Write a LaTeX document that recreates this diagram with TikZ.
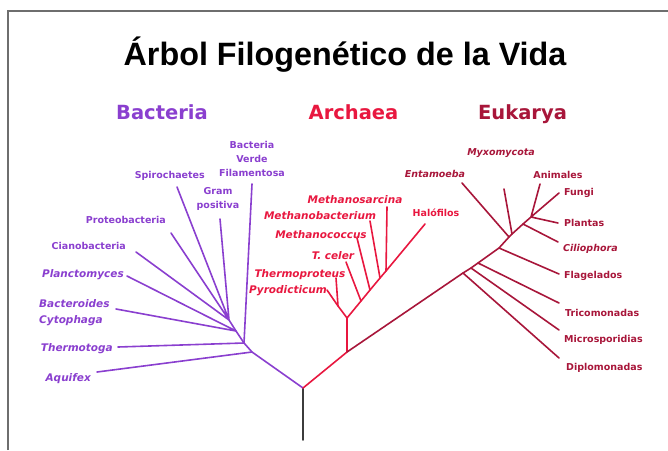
\documentclass[tikz,border=0pt]{standalone}
\usepackage{fontspec}
\newfontfamily\titlefont{Liberation Sans}
\newfontfamily\treefont{DejaVu Sans}
\usepackage{xcolor}
\usetikzlibrary{positioning}
\definecolor{bactcol}{HTML}{8A3FCF}
\definecolor{archcol}{HTML}{E8173F}
\definecolor{eukcol}{HTML}{A8163A}
\definecolor{trunkcol}{HTML}{3C3C3C}
\definecolor{framecol}{HTML}{6E6E6E}

\begin{document}
\begin{tikzpicture}[x=1pt, y=-1pt,
    branch/.style={line width=1.6pt, line cap=round, line join=round},
    lab/.style={inner sep=0pt, font=\treefont\bfseries\fontsize{9.5}{14}\selectfont},
    slab/.style={inner sep=0pt, font=\treefont\bfseries\itshape\fontsize{9.5}{14}\selectfont},
    ilab/.style={inner sep=0pt, font=\treefont\bfseries\itshape\fontsize{10.5}{16}\selectfont},
    header/.style={inner sep=0pt, anchor=base, font=\treefont\bfseries\fontsize{19.5}{22}\selectfont}]
    \useasboundingbox (0,0) rectangle (668,450);

    % Frame
    \draw[framecol, line width=1.3pt] (8,450) -- (8,11) -- (668,11);

    % Title and domains
    \node[anchor=base, inner sep=0pt, font=\titlefont\bfseries\fontsize{32.3}{38}\selectfont] (title) at (345,65) {Árbol Filogenético de la Vida};
    \node[header, bactcol] (bacteria) at (162,119) {Bacteria};
    \node[header, archcol] (archaea) at (353.5,119) {Archaea};
    \node[header, eukcol] (eukarya) at (522.5,119) {Eukarya};

    % Branch points
    \coordinate (base) at (303,440);
    \coordinate (root) at (303,388);
    \coordinate (bA) at (252,352);
    \coordinate (bB) at (244,343);
    \coordinate (bC) at (236,331);
    \coordinate (bD) at (229,320);
    \coordinate (aA) at (347,352);
    \coordinate (aB) at (347,318);
    \coordinate (aC) at (338,306);
    \coordinate (aD) at (361,301);
    \coordinate (aE) at (370,290);
    \coordinate (aF) at (380,278);
    \coordinate (aG) at (386,271);
    \coordinate (eA) at (463,273);
    \coordinate (eB) at (471,268);
    \coordinate (eC) at (478,263);
    \coordinate (eD) at (499,248);
    \coordinate (eE) at (509,237);
    \coordinate (eH) at (512,234);
    \coordinate (eF) at (523,224);
    \coordinate (eG) at (531,217);

    % Tips
    \coordinate (aqu) at (97,372);
    \coordinate (the) at (118,347);
    \coordinate (bac) at (116,309);
    \coordinate (pla) at (127,276);
    \coordinate (cia) at (136,252);
    \coordinate (pro) at (171,233);
    \coordinate (spi) at (177,187);
    \coordinate (gra) at (220,219);
    \coordinate (ver) at (252,184);
    \coordinate (pyr) at (327,290);
    \coordinate (thp) at (336,278);
    \coordinate (tce) at (346,262);
    \coordinate (mco) at (357,238);
    \coordinate (mba) at (370,221);
    \coordinate (msa) at (387,207);
    \coordinate (hal) at (425,224);
    \coordinate (dip) at (559,358);
    \coordinate (mic) at (559,330);
    \coordinate (tri) at (559,303);
    \coordinate (fla) at (559,274);
    \coordinate (cil) at (558,242);
    \coordinate (pln) at (558,223);
    \coordinate (fun) at (559,193);
    \coordinate (ani) at (540,184);
    \coordinate (ent) at (462,183);
    \coordinate (myx) at (504,189);

    % Trunk
    \draw[branch, trunkcol] (base) -- (root);

    % Bacteria
    \draw[branch, bactcol] (root) -- (bA) -- (bB) -- (bC) -- (bD);
    \draw[branch, bactcol] (aqu) -- (bA) (the) -- (bB) (ver) -- (bB) (bac) -- (bC) (pla) -- (bC);
    \draw[branch, bactcol] (cia) -- (bD) (pro) -- (bD) (spi) -- (bD) (gra) -- (bD);
    \node[ilab, bactcol, anchor=east] (aquL) at (91,379) {Aquifex};
    \node[ilab, bactcol, anchor=east] (theL) at (113,349) {Thermotoga};
    \node[ilab, bactcol, anchor=west, align=left] (bacL) at (39,313) {Bacteroides\\Cytophaga};
    \node[ilab, bactcol, anchor=east] (plaL) at (124,275) {Planctomyces};
    \node[lab, bactcol, anchor=east] (ciaL) at (126,246) {Cianobacteria};
    \node[lab, bactcol, anchor=east] (proL) at (166,220) {Proteobacteria};
    \node[lab, bactcol, anchor=east] (spiL) at (205,176) {Spirochaetes};
    \node[lab, bactcol, align=center] (graL) at (218,199) {Gram\\positiva};
    \node[lab, bactcol, align=center] (verL) at (252,159) {Bacteria\\Verde\\Filamentosa};

    % Archaea
    \draw[branch, archcol] (root) -- (aA) -- (aB) -- (aC) -- (thp);
    \draw[branch, archcol] (aC) -- (pyr);
    \draw[branch, archcol] (aB) -- (aD) -- (aE) -- (aF) -- (aG) -- (hal);
    \draw[branch, archcol] (tce) -- (aD) (mco) -- (aE) (mba) -- (aF) (msa) -- (aG);
    \node[ilab, archcol] (msaL) at (355,200) {Methanosarcina};
    \node[ilab, archcol] (mbaL) at (320,216) {Methanobacterium};
    \node[ilab, archcol] (mcoL) at (321,235) {Methanococcus};
    \node[ilab, archcol] (tceL) at (333,256) {T. celer};
    \node[ilab, archcol] (thpL) at (300,275) {Thermoproteus};
    \node[ilab, archcol] (pyrL) at (288,291) {Pyrodicticum};
    \node[lab, archcol] (halL) at (436,213) {Halófilos};

    % Eukarya
    \draw[branch, eukcol] (aA) -- (eA) -- (eB) -- (eC) -- (eD) -- (eE) -- (eH) -- (eF) -- (eG);
    \draw[branch, eukcol] (dip) -- (eA) (mic) -- (eB) (tri) -- (eC) (fla) -- (eD);
    \draw[branch, eukcol] (ent) -- (eE) (myx) -- (eH) (cil) -- (eF);
    \draw[branch, eukcol] (pln) -- (eG) (fun) -- (eG) (ani) -- (eG);
    \node[slab, eukcol] (entL) at (435,174) {Entamoeba};
    \node[slab, eukcol] (myxL) at (501,153) {Myxomycota};
    \node[lab, eukcol] (aniL) at (558,175) {Animales};
    \node[lab, eukcol, anchor=west] (funL) at (564,193) {Fungi};
    \node[lab, eukcol, anchor=west] (plnL) at (564,223) {Plantas};
    \node[slab, eukcol, anchor=west] (cilL) at (563,249) {Ciliophora};
    \node[lab, eukcol, anchor=west] (flaL) at (564,276) {Flagelados};
    \node[lab, eukcol, anchor=west] (triL) at (565,313) {Tricomonadas};
    \node[lab, eukcol, anchor=west] (micL) at (564,340) {Microsporidias};
    \node[lab, eukcol, anchor=west] (dipL) at (566,368) {Diplomonadas};
\end{tikzpicture}
\end{document}
